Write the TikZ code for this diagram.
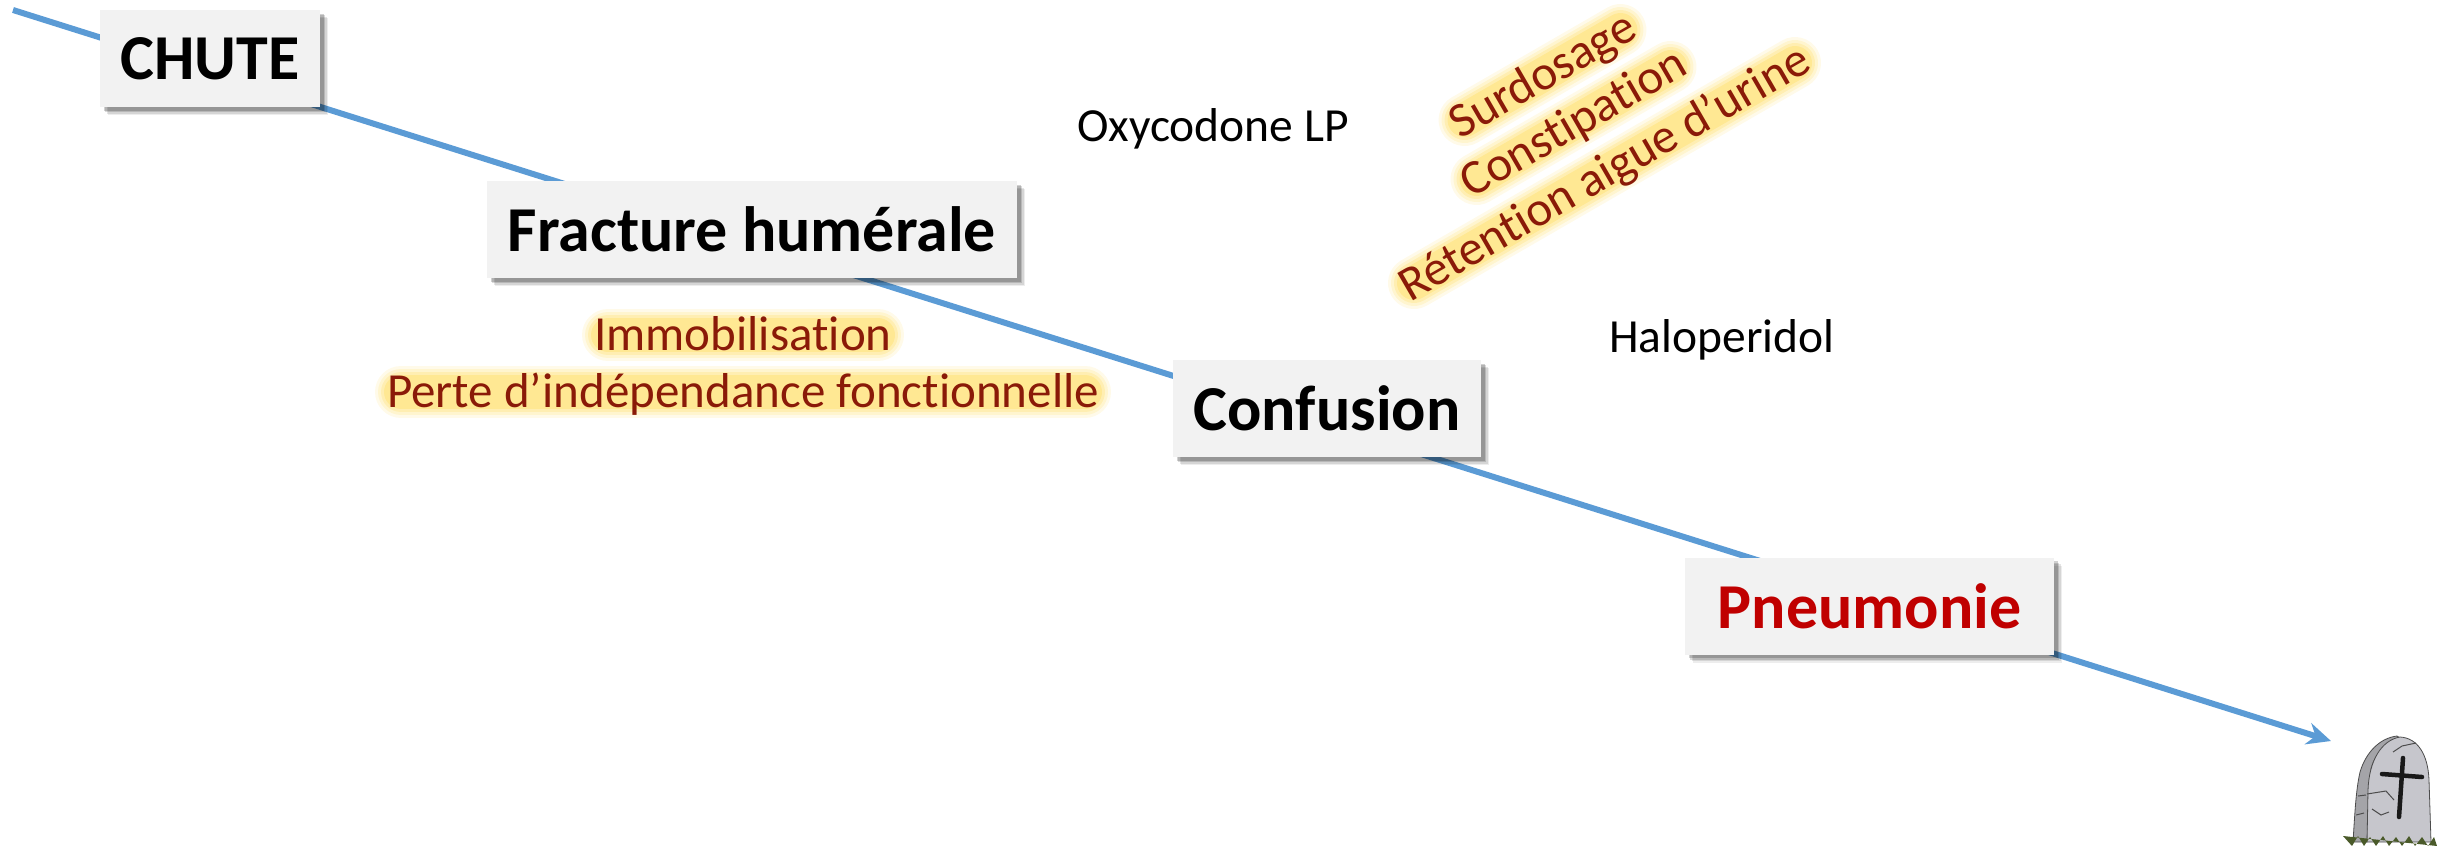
\documentclass[tikz,border=0pt]{standalone}
\usepackage{fontspec}
\setmainfont{Carlito}[Ligatures={NoCommon}]
\usetikzlibrary{arrows.meta}
\definecolor{linkblue}{HTML}{5B9BD5}
\definecolor{boxgrey}{HTML}{F2F2F2}
\definecolor{deepred}{HTML}{C00000}
\definecolor{glowdark}{HTML}{8A1A08}
\definecolor{glowyellow}{HTML}{FFD84A}
\definecolor{stone}{HTML}{C6C6CC}
\definecolor{stoneside}{HTML}{A4A4A8}
\definecolor{grass}{HTML}{4A5A2A}
\tikzset{
  softshadow/.style={
    preaction={fill=black,opacity=.07,transform canvas={shift={(8pt,-8pt)}}},
    preaction={fill=black,opacity=.10,transform canvas={shift={(6.5pt,-6.5pt)}}},
    preaction={fill=black,opacity=.14,transform canvas={shift={(5pt,-5pt)}}},
    preaction={fill=black,opacity=.18,transform canvas={shift={(3.5pt,-3.5pt)}}}},
  stepbox/.style={softshadow,fill=boxgrey,inner sep=0pt,minimum height=97pt,font=\bfseries\fontsize{64}{64}\selectfont,text=black},
  plainlabel/.style={inner sep=0pt,font=\fontsize{47.5}{47.5}\selectfont,text=black},
  link/.style={draw=linkblue,line width=6pt,-{Stealth[length=24pt,width=22pt]}},
  stonepart/.style={line width=.8pt,draw=black!70},
  crack/.style={draw=black!70,line width=1pt},
  halo/.style={draw=glowyellow,line cap=round},
  glowtext/.style={inner sep=0pt,anchor=base,text=glowdark,font=\fontsize{49}{49}\selectfont},
}
% #1 name, #2 baseline centre, #3 angle, #4 half length of the band, #5 text
\newcommand{\glowlabel}[5]{%
  \begin{scope}[shift={(#2)},rotate=#3]
    \foreach \w/\o in {52/.12,46/.16,40/.22,34/.3}{
      \draw[halo,line width=\w pt,opacity=\o] (-#4pt,15pt) -- (#4pt,15pt);
    }
  \end{scope}
  \node[glowtext,rotate=#3] (#1) at (#2) {#5};
}
\begin{document}
\begin{tikzpicture}[x=1pt,y=-1pt]
\useasboundingbox (0,0) rectangle (2437,846);
\coordinate (start) at (13,10);
\coordinate (finish) at (2331,741);
\draw[link] (start) -- (finish);

\node[stepbox,minimum width=220pt] (chute) at (210,58.5) {CHUTE};
\node[stepbox,minimum width=530pt] (fracture) at (752,229.5) {Fracture humérale};
\node[stepbox,minimum width=308pt] (confusion) at (1327,408.5) {Confusion};
\node[stepbox,minimum width=369pt,text=deepred] (pneumonie) at (1869.5,606) {Pneumonie};

\node[plainlabel] (oxy) at (1213,129) {Oxycodone LP};
\node[plainlabel] (halo) at (1722,340) {Haloperidol};

\glowlabel{immo}{743,350}{0}{135}{Immobilisation}
\glowlabel{perte}{743,407}{0}{342}{Perte d’indépendance fonctionnelle}
\glowlabel{surdo}{1550,88}{30}{90}{Surdosage}
\glowlabel{consti}{1581,136}{30}{112}{Constipation}
\glowlabel{reten}{1612,186}{30}{220}{Rétention aigue d’urine}

% tombstone
\fill[stoneside,stonepart] (2353,842) .. controls (2355,810) and (2356,790) .. (2360,772)
  .. controls (2366,752) and (2380,738) .. (2397,736) -- (2400,738)
  .. controls (2385,745) and (2372,755) .. (2370,775) -- (2367,842) -- cycle;
\fill[stone,stonepart] (2367,842) -- (2368,790) .. controls (2369,760) and (2382,740) .. (2400,737)
  .. controls (2418,738) and (2428,755) .. (2429,780) -- (2431,842) -- cycle;
\draw[line width=4.5pt,line cap=round,black!90] (2403,758) -- (2399,817);
\draw[line width=4.5pt,line cap=round,black!90] (2382,774) -- (2422,777);
\draw[crack] (2393,752) -- (2402,746) -- (2416,743);
\draw[crack] (2367,794) -- (2386,791) -- (2394,800);
\draw[crack] (2372,809) -- (2381,815) -- (2389,812);
\draw[crack] (2358,796) -- (2366,795);
\draw[crack] (2356,815) -- (2364,813);
\fill[grass] (2343,836) -- (2352,846) -- (2358,836) -- (2364,846) -- (2370,837) -- (2376,846)
  -- (2383,836) -- (2389,846) -- (2396,837) -- (2402,846) -- (2409,836) -- (2415,846)
  -- (2422,837) -- (2428,846) -- (2434,837) -- (2437,846) -- cycle;
\end{tikzpicture}
\end{document}
